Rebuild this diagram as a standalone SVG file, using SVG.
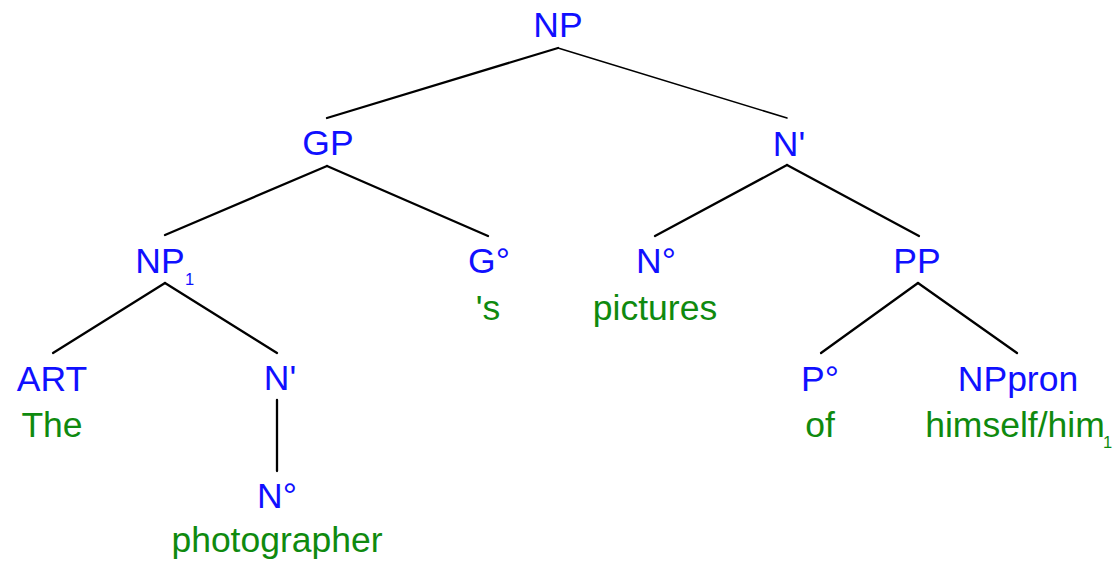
<svg xmlns="http://www.w3.org/2000/svg" width="1117" height="564" viewBox="0 0 1117 564">
<style>
.c{fill:#1010ff;font-family:"Liberation Sans",Arial,sans-serif;font-size:35.5px;text-anchor:middle}
.w{fill:#0f8a0f;font-family:"Liberation Sans",Arial,sans-serif;font-size:35.5px;text-anchor:middle}
.s{font-size:16.5px;text-anchor:start}
.e{stroke:#000;stroke-width:2.3;fill:none;stroke-linecap:round}
</style>
<rect width="1117" height="564" fill="#fff"/>
<g id="connectors">
<line class="e" x1="558" y1="48" x2="327" y2="118"/>
<line class="e" x1="558" y1="48" x2="787" y2="118" style="stroke-width:1.5"/>
<line class="e" x1="327" y1="166" x2="165" y2="235"/>
<line class="e" x1="327" y1="166" x2="488" y2="236"/>
<line class="e" x1="787" y1="165" x2="655" y2="236"/>
<line class="e" x1="787" y1="165" x2="919" y2="236"/>
<line class="e" x1="165" y1="283" x2="53" y2="353"/>
<line class="e" x1="165" y1="283" x2="277" y2="353"/>
<line class="e" x1="918" y1="283" x2="821" y2="353"/>
<line class="e" x1="918" y1="283" x2="1017" y2="353"/>
<line class="e" x1="277" y1="400" x2="277" y2="471"/>
</g>
<g id="n-np"><text class="c" x="558" y="37">NP</text></g>
<g id="n-gp"><text class="c" x="328" y="155">GP</text></g>
<g id="n-nbar"><text class="c" x="789" y="156">N'</text></g>
<g id="n-np1"><text class="c" x="160" y="273">NP</text><text class="c s" x="185" y="285">1</text></g>
<g id="n-g"><text class="c" x="489" y="273">G°</text><text class="w" x="488" y="320">'s</text></g>
<g id="n-n"><text class="c" x="656" y="273">N°</text><text class="w" x="655" y="320">pictures</text></g>
<g id="n-pp"><text class="c" x="917" y="273">PP</text></g>
<g id="n-art"><text class="c" x="52" y="391">ART</text><text class="w" x="52" y="437">The</text></g>
<g id="n-nbar2"><text class="c" x="280" y="390">N'</text></g>
<g id="n-n2"><text class="c" x="277" y="508">N°</text><text class="w" x="277" y="552">photographer</text></g>
<g id="n-p"><text class="c" x="820" y="391">P°</text><text class="w" x="820" y="437">of</text></g>
<g id="n-nppron"><text class="c" x="1018" y="391">NPpron</text><text class="w" x="1015" y="437">himself/him</text><text class="w s" x="1103" y="448">1</text></g>
</svg>
